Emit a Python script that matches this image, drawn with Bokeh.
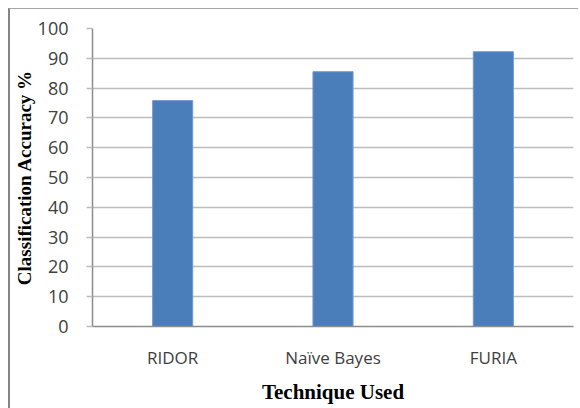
from bokeh.plotting import figure
from bokeh.models import ColumnDataSource, FixedTicker, Range1d
from bokeh.embed import file_html
from bokeh.resources import INLINE

techniques = ["RIDOR", "Naïve Bayes", "FURIA"]
accuracy = [75.8, 85.5, 92.2]
y_ticks = [0, 10, 20, 30, 40, 50, 60, 70, 80, 90, 100]

source = ColumnDataSource(data=dict(technique=techniques, accuracy=accuracy))

p = figure(
    x_range=techniques,
    y_range=Range1d(0, 100),
    width=570, height=400,
    output_backend="svg", toolbar_location=None,
    min_border_left=82, min_border_right=7,
    min_border_top=19, min_border_bottom=83,
)
p.margin = (8, 0, 0, 8)
p.styles = {"border-top": "1px solid #a6a6a6", "border-left": "2px solid #858585"}

p.vbar(x="technique", top="accuracy", width=0.25, source=source,
       fill_color="#4a7ebb", line_color="#6f9ad0", line_width=1)

p.outline_line_color = None
p.xgrid.grid_line_color = None
p.ygrid.grid_line_color = "#bdbdbd"
p.ygrid.grid_line_width = 1.5

p.yaxis.ticker = FixedTicker(ticks=y_ticks)
p.yaxis.axis_line_color = "#8c8c8c"
p.yaxis.axis_line_width = 1.5
p.yaxis.major_tick_line_color = "#bdbdbd"
p.yaxis.major_tick_line_width = 1.5
p.yaxis.major_tick_out = 6
p.yaxis.major_tick_in = 0
p.yaxis.minor_tick_line_color = None
p.yaxis.major_label_text_font = "Open Sans"
p.yaxis.major_label_text_font_size = "18px"
p.yaxis.major_label_text_color = "#404040"
p.yaxis.major_label_standoff = 18
p.yaxis.axis_label = "Classification Accuracy %"
p.yaxis.axis_label_text_font = "Liberation Serif"
p.yaxis.axis_label_text_font_style = "bold"
p.yaxis.axis_label_text_font_size = "19px"
p.yaxis.axis_label_text_color = "#000000"
p.yaxis.axis_label_standoff = 0

p.xaxis.axis_line_color = "#8c8c8c"
p.xaxis.axis_line_width = 1.5
p.xaxis.major_tick_line_color = None
p.xaxis.minor_tick_line_color = None
p.xaxis.major_label_text_font = "Open Sans"
p.xaxis.major_label_text_font_size = "17px"
p.xaxis.major_label_text_color = "#404040"
p.xaxis.major_label_standoff = 13
p.xaxis.axis_label = "Technique Used"
p.xaxis.axis_label_text_font = "Liberation Serif"
p.xaxis.axis_label_text_font_style = "bold"
p.xaxis.axis_label_text_font_size = "21px"
p.xaxis.axis_label_text_color = "#000000"
p.xaxis.axis_label_standoff = 8

open("out.html", "w").write(file_html(p, INLINE))
